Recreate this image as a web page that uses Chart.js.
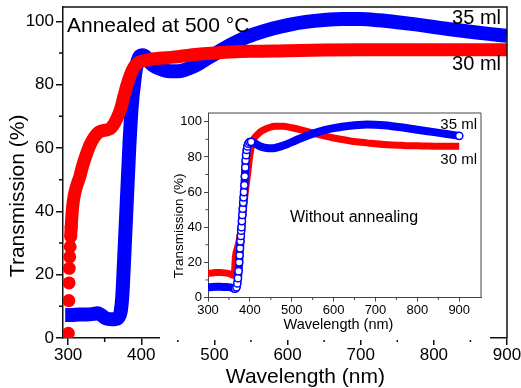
<!DOCTYPE html>
<html><head><meta charset="utf-8">
<script src="https://cdn.jsdelivr.net/npm/chart.js@4.4.1/dist/chart.umd.min.js"></script>
<style>
html,body{margin:0;padding:0;background:#fff;}
#wrap{position:relative;width:521px;height:388px;overflow:hidden;}
#main{position:absolute;left:0;top:0;}
#inset{position:absolute;left:160px;top:105px;}
</style></head><body>
<div id="wrap"><canvas id="main" width="521" height="388"></canvas><canvas id="inset" width="330" height="235"></canvas></div>
<script>
// ---------- Main panel: annealed at 500 °C ----------
const mainWl30 = [300.3,301.0,301.3,301.6,302.2,302.8,303.5,304.2,305,306,308,311,316,320,325,330,336,342,350,357,362,367,372,376,380,385,390,395,400,410,420,435,450,470,500,550,600,650,700,800,900];
const mainT30  = [1.5,11.8,17.4,22,25.6,28.8,32,35,38,41,44.5,47.5,51,54.5,58,61,63.5,65,65.6,66,67.3,69.5,72.5,76,79.5,83,85.5,86.8,87.3,87.9,88.2,88.5,88.8,89.4,90,90.5,90.7,90.9,91,91,91];
const mainWl35 = [296,305,315,325,335,340,345,350,355,360,365,369,372,374,376,378,380,382,384,386,388,390,392,395,398,402,406,410,415,420,430,440,450,460,470,480,490,500,520,540,560,580,600,625,650,675,700,725,750,775,800,825,850,875,900];
const mainT35  = [7.3,7.3,7.4,7.4,7.6,7.8,7.3,6.4,6.0,5.9,6.0,6.5,8.5,13,22,32,42,52,62,70,76,80,84,87.5,89,89.3,88.8,87.5,86.3,85.5,84.6,84.2,84.2,84.7,85.6,86.8,88.2,89.6,92.3,94.6,96.3,97.7,98.8,99.8,100.4,100.7,100.7,100.3,99.7,99,98.2,97.4,96.7,96,95.4];
const mainXTicks = [300,400,500,600,700,800,900];
const mainXMinor = [350,450,550,650,750,850];
const mainYTicks = [0,20,40,60,80,100];
const mainYMinor = [10,30,50,70,90];

// ---------- Inset: without annealing ----------
const insWl35 = [300,310,320,330,340,350,355,360,362,365,368,370,371.5,373,374.5,375.5,376.5,377.5,378.5,379.3,380,381,382,383,384,385,386,387,388,389,390,391,392.5,394,396,399,403,407,412,420,430,440,450,460,470,480,490,500,520,540,560,580,600,620,640,660,680,700,720,740,760,780,800,820,840,860,880,900];
const insT35  = [5.8,6,6.1,6.1,6,5.9,5.7,5.2,4.8,5,5.8,8,11,15,20,24,28,32,35,38,40,43.5,47,50.5,54,57,60,64,69,74,78,81,84,86,87.5,88.4,88.6,88.4,87.7,86.6,85.6,85.1,84.9,85.1,85.7,86.5,87.4,88.4,90.5,92.4,94,95.4,96.4,97.2,97.8,98.2,98.4,98.3,98,97.5,96.9,96.2,95.5,94.8,94.1,93.4,92.7,92];
const insWl30 = [300,310,320,330,340,350,355,360,362,363.5,364.5,366,370,375,380,385,390,395,400,405,410,420,430,440,450,460,470,480,490,500,520,540,560,580,600,620,640,660,680,700,720,740,760,780,800,820,840,860,880,900];
const insT30  = [13.8,14,14.2,14.2,14,13.6,13.3,12.6,12.8,15,20,24,28,33,41,51,62,71,81,87.5,90.5,93.2,95,96.2,97,97.4,97.5,97.4,97.1,96.6,95.5,94.2,93,91.8,90.8,89.9,89.1,88.5,88,87.5,87.1,86.8,86.6,86.4,86.3,86.2,86.1,86.1,86.1,86.1];
const insXTicks = [300,400,500,600,700,800,900];
const insXMinor = [350,450,550,650,750,850];
const insYTicks = [0,20,40,60,80,100];
const insYMinor = [10,30,50,70,90];
const ringRange = [364, 404];

const RED = 'rgb(255,0,0)';
const BLUE = 'rgb(0,0,255)';
const FONT = '"Liberation Sans", Arial, sans-serif';
const pts = (xs, ys) => xs.map((x, i) => ({x, y: ys[i]}));

const decor = {
  id: 'decor',
  beforeDraw(chart) {
    const c = chart.ctx; c.save(); c.fillStyle = '#fff'; c.fillRect(0, 0, chart.width, chart.height); c.restore();
  },
  afterDraw(chart, args, o) {
    const {ctx, chartArea: a, scales: {x, y}} = chart;
    ctx.save();
    ctx.strokeStyle = o.color; ctx.lineWidth = o.width;
    ctx.beginPath();
    ctx.moveTo(a.left, a.top); ctx.lineTo(a.right, a.top); ctx.lineTo(a.right, a.bottom);
    ctx.stroke();
    ctx.beginPath();
    o.xMinor.forEach(v => { const p = x.getPixelForValue(v); ctx.moveTo(p, a.bottom); ctx.lineTo(p, a.bottom + o.minorLen); });
    o.yMinor.forEach(v => { const p = y.getPixelForValue(v); ctx.moveTo(a.left, p); ctx.lineTo(a.left - o.minorLen, p); });
    ctx.stroke();
    o.notes.forEach(n => {
      ctx.font = n.font; ctx.fillStyle = '#000'; ctx.textAlign = n.align; ctx.textBaseline = 'alphabetic';
      ctx.fillText(n.text, n.x, n.y);
    });
    ctx.restore();
  }
};

function axis(cfg) {
  return {
    type: 'linear', min: cfg.min, max: cfg.max,
    afterBuildTicks: s => { s.ticks = cfg.ticks.map(v => ({value: v})); },
    afterFit: s => {
      if (cfg.height !== undefined) s.height = cfg.height;
      if (cfg.width !== undefined) s.width = cfg.width;
      s.paddingLeft = 0; s.paddingRight = 0; s.paddingTop = 0; s.paddingBottom = 0;
    },
    grid: {drawOnChartArea: false, drawTicks: true, tickLength: cfg.tickLen, color: cfg.color, lineWidth: cfg.lw},
    border: {display: true, color: cfg.color, width: cfg.lw},
    ticks: {font: {family: FONT, size: cfg.tickSize}, color: '#000', padding: cfg.tickPad, maxRotation: 0, autoSkip: false},
    title: {display: true, text: cfg.title, color: '#000', font: {family: FONT, size: cfg.titleSize, lineHeight: 1}, padding: cfg.titlePad}
  };
}

new Chart(document.getElementById('main'), {
  type: 'line',
  data: {
    datasets: [
      {
        label: '30 ml', data: pts(mainWl30, mainT30),
        borderColor: RED, backgroundColor: RED, borderWidth: 13,
        pointRadius: c => c.dataIndex <= 7 ? 6.5 : 0, pointBorderWidth: 0, pointBackgroundColor: RED,
        segment: {borderColor: c => c.p0DataIndex < 6 ? 'rgba(0,0,0,0)' : RED},
        cubicInterpolationMode: 'monotone', borderJoinStyle: 'round', clip: 0
      },
      {
        label: '35 ml', data: pts(mainWl35, mainT35),
        borderColor: BLUE, backgroundColor: BLUE, borderWidth: 14, pointRadius: 0,
        cubicInterpolationMode: 'monotone', borderJoinStyle: 'round', clip: 0
      }
    ]
  },
  options: {
    responsive: false, animation: false, devicePixelRatio: 1,
    layout: {padding: {top: 7, right: 14, left: 0, bottom: 0}},
    plugins: {
      legend: {display: false}, tooltip: {enabled: false},
      decor: {
        color: '#111', width: 1.5, minorLen: 4, xMinor: mainXMinor, yMinor: mainYMinor,
        notes: [
          {text: 'Annealed at 500 °C', x: 67, y: 32, align: 'left', font: '21px ' + FONT},
          {text: '35 ml', x: 501, y: 23.5, align: 'right', font: '20px ' + FONT},
          {text: '30 ml', x: 501, y: 70, align: 'right', font: '20px ' + FONT}
        ]
      }
    },
    scales: {
      x: axis({min: 293, max: 900, ticks: mainXTicks, height: 50, tickLen: 7, color: '#111', lw: 1.5, tickSize: 17, tickPad: 0,
               title: '       Wavelength (nm)', titleSize: 21, titlePad: {top: 0, bottom: 0.5}}),
      y: axis({min: 0, max: 104.5, ticks: mainYTicks, width: 63, tickLen: 7, color: '#111', lw: 1.5, tickSize: 17, tickPad: 2,
               title: 'Transmission (%)        ', titleSize: 21, titlePad: {top: 8, bottom: 0}})
    }
  },
  plugins: [decor]
});

new Chart(document.getElementById('inset'), {
  type: 'line',
  data: {
    datasets: [
      {
        label: '35 ml', data: pts(insWl35, insT35),
        borderColor: BLUE, backgroundColor: '#fff', borderWidth: 8,
        pointRadius: c => { const x = insWl35[c.dataIndex]; return (x >= ringRange[0] && x <= ringRange[1]) || c.dataIndex === insWl35.length - 1 ? 3.6 : 0; },
        pointBackgroundColor: '#fff', pointBorderColor: BLUE, pointBorderWidth: 1.5,
        cubicInterpolationMode: 'monotone', borderJoinStyle: 'round', clip: 0
      },
      {
        label: '30 ml', data: pts(insWl30, insT30),
        borderColor: RED, backgroundColor: RED, borderWidth: 7, pointRadius: 0,
        cubicInterpolationMode: 'monotone', borderJoinStyle: 'round', clip: 0
      }
    ]
  },
  options: {
    responsive: false, animation: false, devicePixelRatio: 1,
    layout: {padding: {top: 8, right: 9, left: 0, bottom: 0}},
    plugins: {
      legend: {display: false}, tooltip: {enabled: false},
      decor: {
        color: '#444', width: 1, minorLen: 2.5, xMinor: insXMinor, yMinor: insYMinor,
        notes: [
          {text: '35 ml', x: 317, y: 24.3, align: 'right', font: '15px ' + FONT},
          {text: '30 ml', x: 317, y: 59.3, align: 'right', font: '15px ' + FONT},
          {text: 'Without annealing', x: 130, y: 117, align: 'left', font: '16px ' + FONT}
        ]
      }
    },
    scales: {
      x: axis({min: 300, max: 952, ticks: insXTicks, height: 42.5, tickLen: 4, color: '#444', lw: 1, tickSize: 13, tickPad: 1,
               title: 'Wavelength (nm)   ', titleSize: 14.5, titlePad: {top: 0, bottom: 8.25}}),
      y: axis({min: 0, max: 105, ticks: insYTicks, width: 48, tickLen: 4, color: '#444', lw: 1, tickSize: 13, tickPad: 2,
               title: 'Transmission (%)           ', titleSize: 13.5, titlePad: {top: 12.75, bottom: 0}})
    }
  },
  plugins: [decor]
});
</script>
</body></html>
